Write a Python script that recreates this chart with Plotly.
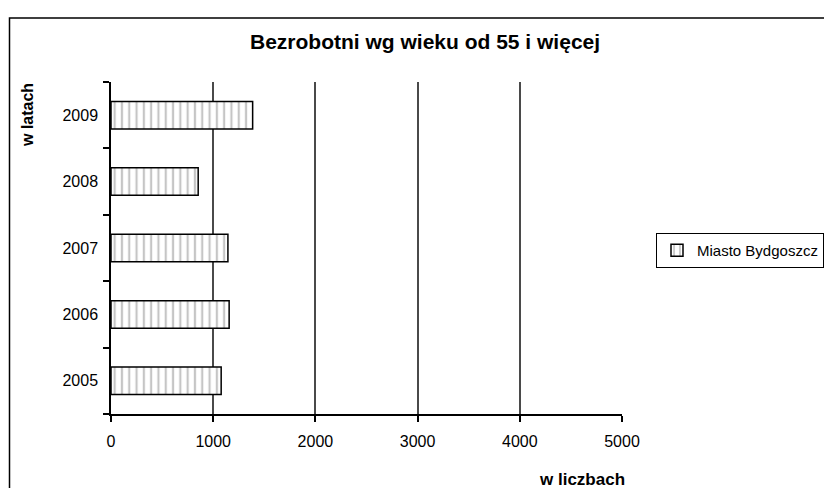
import plotly.graph_objects as go

years = ["2005", "2006", "2007", "2008", "2009"]
values = [1078, 1156, 1144, 853, 1386]
series_name = "Miasto Bydgoszcz"
x_ticks = [0, 1000, 2000, 3000, 4000, 5000]

W, H = 824, 488
L, R, T, B = 111, 202, 82, 74
pw, ph = W - L - R, H - T - B

def px_to_paper_x(px):
    return (px - L) / pw

def px_to_paper_y(py):
    return (H - B - py) / ph

fig = go.Figure()
fig.add_trace(go.Bar(
    y=years, x=values, orientation="h", name=series_name,
    marker=dict(
        color="white",
        line=dict(color="black", width=1.5),
        pattern=dict(shape="|", fgcolor="#8c8c8c", bgcolor="white", size=7.3, solidity=0.3, fillmode="overlay"),
    ),
    showlegend=True,
))

fig.update_layout(
    width=W, height=H,
    margin=dict(l=L, r=R, t=T, b=B, pad=0, autoexpand=False),
    paper_bgcolor="white", plot_bgcolor="white",
    font=dict(family="Arial, Liberation Sans, sans-serif", size=16, color="black"),
    bargap=0.586,
    showlegend=True,
    legend=dict(
        x=px_to_paper_x(656), y=px_to_paper_y(233), xanchor="left", yanchor="top",
        bordercolor="black", borderwidth=1, bgcolor="white",
        font=dict(size=15), itemwidth=30, tracegroupgap=0,
    ),
    xaxis=dict(
        range=[0, 5000], tickvals=x_ticks, ticktext=[str(v) for v in x_ticks],
        showline=True, linecolor="black", linewidth=1.5,
        ticks="outside", ticklen=6, tickcolor="black", tickwidth=1.5,
        showgrid=True, gridcolor="#4a4a4a", gridwidth=1.5, zeroline=False,
        ticklabelstandoff=6,
        tickfont=dict(size=16),
    ),
    yaxis=dict(
        type="category", categoryorder="array", categoryarray=years,
        showline=True, linecolor="black", linewidth=1.5,
        ticks="outside", ticklen=6, tickcolor="black", tickwidth=1.5,
        tickson="boundaries", showgrid=False, zeroline=False,
        ticklabelstandoff=8,
        tickfont=dict(size=16),
    ),
    shapes=[dict(
        type="rect", xref="paper", yref="paper",
        x0=px_to_paper_x(9.5), x1=px_to_paper_x(900),
        y0=px_to_paper_y(600), y1=px_to_paper_y(18),
        line=dict(color="black", width=1.5), fillcolor="rgba(0,0,0,0)", layer="below",
    )],
    annotations=[
        dict(text="<b>Bezrobotni wg wieku od 55 i więcej</b>", xref="paper", yref="paper",
             x=px_to_paper_x(424.5), y=px_to_paper_y(41), xanchor="center", yanchor="middle",
             showarrow=False, font=dict(size=21)),
        dict(text="<b>w latach</b>", xref="paper", yref="paper",
             x=px_to_paper_x(27), y=px_to_paper_y(115), xanchor="center", yanchor="middle",
             textangle=-90, showarrow=False, font=dict(size=16)),
        dict(text="<b>w liczbach</b>", xref="paper", yref="paper",
             x=px_to_paper_x(582), y=px_to_paper_y(479), xanchor="center", yanchor="middle",
             showarrow=False, font=dict(size=17)),
    ],
)

fig.write_html(
    "out.html",
    config={"displayModeBar": False},
    post_script="document.body.style.margin='0px';document.body.style.overflow='hidden';",
)
